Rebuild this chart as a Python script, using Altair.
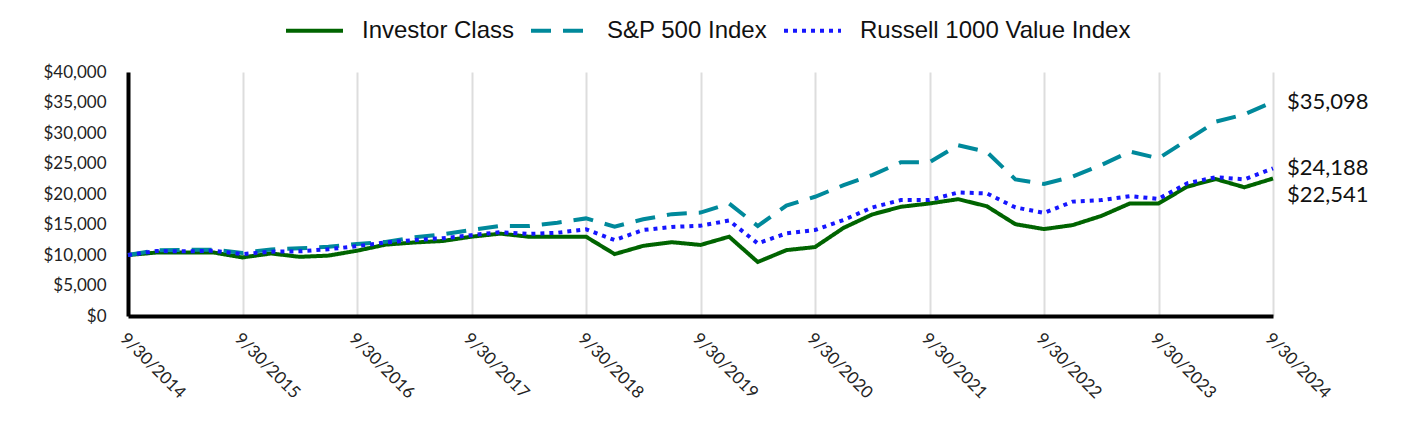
import altair as alt
import pandas as pd

series_names = ["Investor Class", "S&P 500 Index", "Russell 1000 Value Index"]
series_colors = ["#006400", "#00899B", "#1616FF"]
series_dashes = [[1, 0], [20, 12], [4, 5]]

years = list(range(2014, 2025))

dates = ["9/30/2014"]
for y in years[1:]:
    dates += [f"12/31/{y-1}", f"3/31/{y}", f"6/30/{y}", f"9/30/{y}"]
tick_labels = [f"9/30/{y}" for y in years]
y_ticks = [0, 5000, 10000, 15000, 20000, 25000, 30000, 35000, 40000]

investor = [10000, 10400, 10400, 10400, 9600, 10250, 9700, 9900, 10700, 11700,
            12050, 12300, 13000, 13500, 13000, 13000, 13000, 10150, 11500, 12100,
            11650, 13000, 8850, 10800, 11300, 14450, 16650, 17900, 18450, 19150,
            18000, 15050, 14250, 14900, 16400, 18450, 18450, 21200, 22450, 21100,
            22541]
sp500 = [10000, 10750, 10850, 10850, 10350, 10900, 11100, 11350, 11800, 12150,
         12900, 13400, 14100, 14750, 14750, 15300, 16000, 14650, 15850, 16700,
         16950, 18450, 14750, 18100, 19550, 21450, 23100, 25200, 25200, 28000,
         26900, 22400, 21650, 22850, 24750, 26950, 25850, 28850, 31850, 33050,
         35098]
russell = [10000, 10650, 10600, 10700, 10150, 10550, 10600, 10950, 11450, 12050,
           12450, 12750, 13250, 13750, 13450, 13650, 14200, 12450, 14100, 14600,
           14800, 15650, 11900, 13550, 14100, 15750, 17800, 19000, 19000, 20250,
           20100, 17800, 16900, 18750, 19000, 19650, 19200, 21750, 22750, 22400,
           24188]

rows = []
for name, vals in zip(series_names, [investor, sp500, russell]):
    for i, (d, v) in enumerate(zip(dates, vals)):
        rows.append({"date": d, "q": i, "series": name, "value": v})
df = pd.DataFrame(rows)

x_scale = alt.Scale(type="point", padding=0, domain=dates)
y_scale = alt.Scale(domain=[0, 40000], nice=False)

x_axis = alt.Axis(values=tick_labels, labelAngle=45, grid=True,
                  title=None, ticks=False, labelPadding=14,
                  labelFontSize=17, labelFont="Lato",
                  labelColor="#222222", labelOverlap=False,
                  domainColor="#000000", domainWidth=4,
                  gridColor="#dddddd", gridWidth=2)
y_axis = alt.Axis(values=y_ticks, format="$,.0f",
                  title=None, ticks=False, grid=False,
                  labelPadding=22, labelFontSize=17, labelFont="Lato",
                  labelColor="#222222", labelOverlap=False,
                  labelSeparation=0,
                  domainColor="#000000", domainWidth=4)

x_enc = alt.X("date:O", sort=None, scale=x_scale, axis=x_axis)
y_enc = alt.Y("value:Q", scale=y_scale, axis=y_axis)

legend = alt.Legend(title=None, orient="none", direction="horizontal",
                    legendX=156, legendY=-72,
                    symbolType="stroke", symbolSize=3249,
                    symbolStrokeWidth=4,
                    labelFont="Liberation Sans", labelFontSize=24,
                    labelColor="#111111", labelOffset=17, labelLimit=400,
                    columnPadding=8)

base = alt.Chart(df)

lines = base.mark_line(strokeWidth=4, strokeCap="butt").encode(
    x=x_enc,
    y=y_enc,
    color=alt.Color("series:N", sort=series_names,
                    scale=alt.Scale(domain=series_names, range=series_colors),
                    legend=legend),
    strokeDash=alt.StrokeDash("series:N", sort=series_names,
                              scale=alt.Scale(domain=series_names, range=series_dashes),
                              legend=legend),
    order=alt.Order("q:Q"),
)

last_q = len(dates) - 1
labels_main = base.transform_filter(
    (alt.datum.q == last_q) & (alt.datum.series != "Investor Class")
).mark_text(align="left", baseline="middle", dx=14, fontSize=22, font="Lato",
            color="#111111").encode(
    x=x_enc,
    y=y_enc,
    text=alt.Text("value:Q", format="$,.0f"),
)
labels_inv = base.transform_filter(
    (alt.datum.q == last_q) & (alt.datum.series == "Investor Class")
).mark_text(align="left", baseline="middle", dx=14, dy=17, fontSize=22, font="Lato",
            color="#111111").encode(
    x=x_enc,
    y=y_enc,
    text=alt.Text("value:Q", format="$,.0f"),
)

chart = alt.layer(lines, labels_main, labels_inv).properties(
    width=1145, height=244,
    autosize=alt.AutoSizeParams(type="none"),
    padding={"left": 128, "top": 72, "right": 155, "bottom": 128},
    background="white",
).configure_view(stroke=None)

chart.save("out.html", embed_options={"renderer": "svg", "actions": False})
